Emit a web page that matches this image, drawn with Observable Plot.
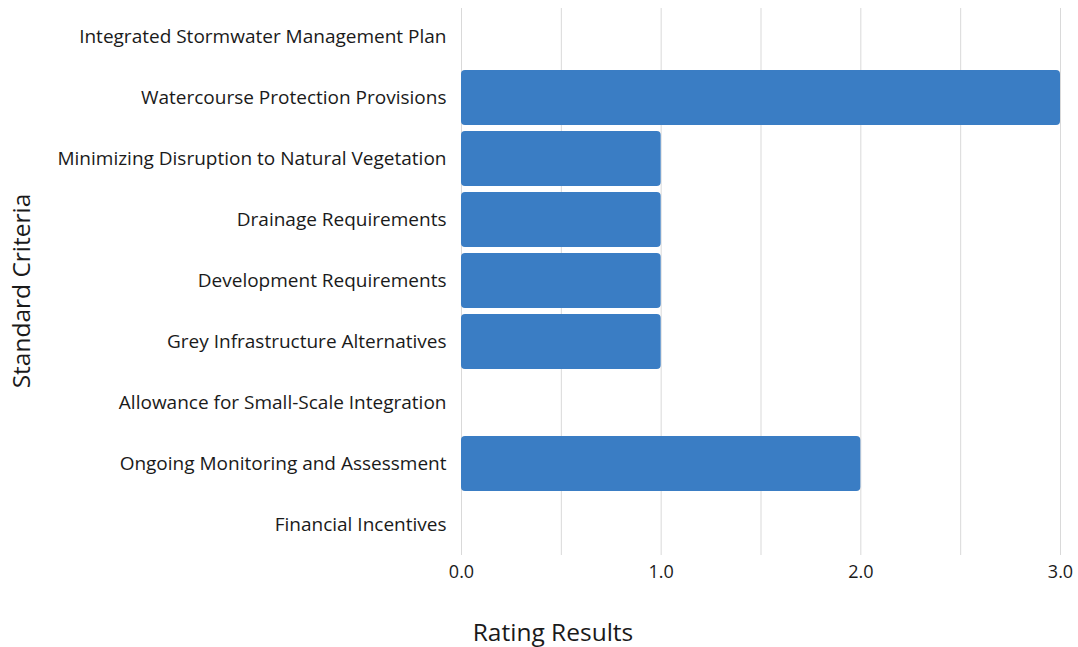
<!DOCTYPE html>
<html>
<head>
<meta charset="utf-8">
<script src="https://cdn.jsdelivr.net/npm/d3@7"></script>
<script src="https://cdn.jsdelivr.net/npm/@observablehq/plot@0.6"></script>
<style>
  html, body { margin: 0; padding: 0; background: #fff; }
  #chart { width: 1078px; height: 647px; }
</style>
</head>
<body>
<div id="chart"></div>
<script>
const categories = [
  "Integrated Stormwater Management Plan",
  "Watercourse Protection Provisions",
  "Minimizing Disruption to Natural Vegetation",
  "Drainage Requirements",
  "Development Requirements",
  "Grey Infrastructure Alternatives",
  "Allowance for Small-Scale Integration",
  "Ongoing Monitoring and Assessment",
  "Financial Incentives"
];
const ratings = [0, 3, 1, 1, 1, 1, 0, 2, 0];
const xTicks = [0, 1, 2, 3];
const gridTicks = [0, 0.5, 1, 1.5, 2, 2.5, 3];
const xTitle = "Rating Results";
const yTitle = "Standard Criteria";

const data = categories.map((c, i) => ({category: c, value: ratings[i]}));
const font = "'Open Sans', 'Noto Sans', sans-serif";

const chart = Plot.plot({
  width: 1078,
  height: 647,
  marginLeft: 461,
  marginRight: 18,
  marginTop: 6,
  marginBottom: 92,
  style: {fontFamily: font, background: "#fff", color: "#222"},
  x: {domain: [0, 3]},
  y: {domain: categories, paddingInner: 0.1, paddingOuter: 0},
  marks: [
    Plot.gridX(gridTicks, {stroke: "#d9d9d9", strokeOpacity: 1, strokeWidth: 1, insetTop: 2}),
    Plot.barX(data, {
      filter: d => d.value > 0,
      x: "value", y: "category",
      fill: "#3a7dc4", rx: 4
    }),
    Plot.axisY({tickSize: 0, tickPadding: 15, fontSize: 19, label: null, fill: "#1a1a1a"}),
    Plot.axisX(xTicks, {tickSize: 0, tickPadding: 10, fontSize: 18, tickFormat: d => d.toFixed(1), label: null, fill: "#1a1a1a"}),
    Plot.text([xTitle], {frameAnchor: "bottom", textAnchor: "middle", lineAnchor: "middle", dx: -208, dy: 78, fontSize: 24.5, fill: "#1a1a1a"}),
    Plot.text([yTitle], {frameAnchor: "left", textAnchor: "middle", lineAnchor: "middle", rotate: -90, dx: -439, dy: 10, fontSize: 24.5, fill: "#1a1a1a"})
  ]
});
document.getElementById("chart").appendChild(chart);
</script>
</body>
</html>
